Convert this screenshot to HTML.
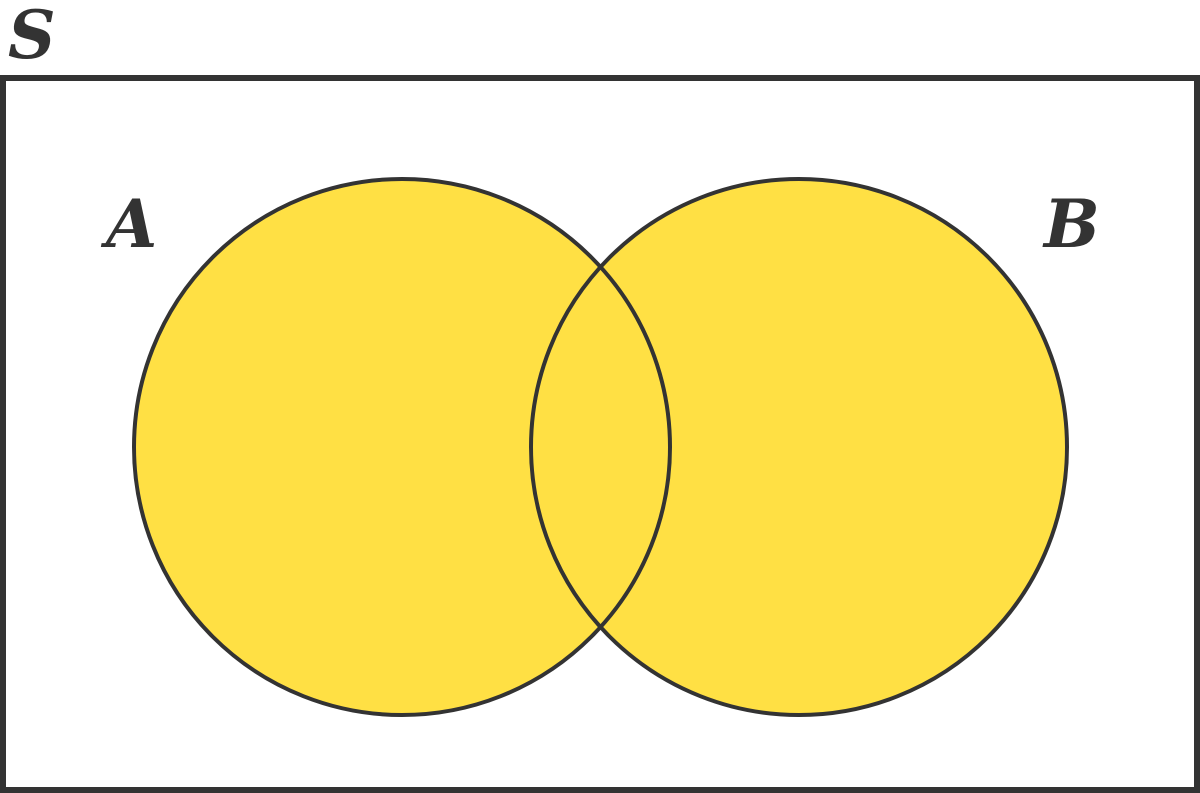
<!DOCTYPE html>
<html><head><meta charset="utf-8"><style>
html,body{margin:0;padding:0;background:#fff;width:1200px;height:793px;overflow:hidden}
text{font-family:"DejaVu Serif","Liberation Serif",serif;font-weight:bold;font-style:italic;fill:#333}
</style></head><body>
<svg width="1200" height="793" viewBox="0 0 1200 793">
<rect x="3" y="78" width="1194" height="712" fill="#fff" stroke="#333" stroke-width="6"/>
<text x="8" y="58" font-size="66">S</text>
<circle cx="402" cy="447" r="268" fill="#FFE044" stroke="none"/>
<circle cx="799" cy="447" r="268" fill="#FFE044" stroke="none"/>
<circle cx="402" cy="447" r="268" fill="none" stroke="#333" stroke-width="4"/>
<circle cx="799" cy="447" r="268" fill="none" stroke="#333" stroke-width="4"/>
<text x="106" y="247" font-size="66">A</text>
<text x="1044" y="247" font-size="66">B</text>
</svg>
</body></html>
